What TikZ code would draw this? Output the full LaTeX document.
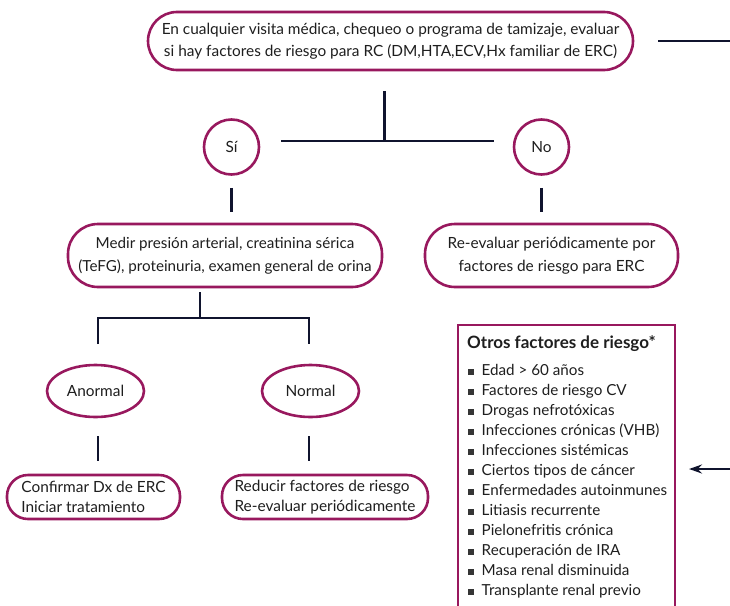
\documentclass[tikz,border=0pt]{standalone}
\usepackage{fontspec}
\setmainfont{Lato}
\usetikzlibrary{shapes.geometric,arrows.meta,calc}
\definecolor{frame}{RGB}{152,24,94}
\definecolor{ink}{RGB}{16,20,46}
\definecolor{txt}{RGB}{30,30,30}
\newcommand{\bulletsq}{\textcolor{txt!90}{\rule[0.5pt]{5.5pt}{5.5pt}}\hspace{8pt}}
\begin{document}
\begin{tikzpicture}[x=1pt,y=-1pt,
  every node/.style={font=\fontsize{15.4}{22}\selectfont, text=txt, inner sep=0pt},
  pill/.style={draw=frame, line width=2.6pt, align=center},
  bubble/.style={draw=frame, line width=2.6pt, circle, minimum size=55pt},
  oval/.style={draw=frame, line width=2.6pt, ellipse, minimum width=97pt, minimum height=52pt},
  link/.style={draw=ink, line width=2.7pt},
]
\useasboundingbox (0,0) rectangle (730,605);

% decision boxes
\node[pill, rounded corners=29pt, minimum width=485pt, minimum height=58pt] (top) at (390.5,41)
  {En cualquier visita médica, chequeo o programa de tamizaje, evaluar\\
   si hay factores de riesgo para RC (DM,HTA,ECV,Hx familiar de ERC)};
\node[bubble] (si) at (231.5,147) {Sí};
\node[bubble] (no) at (541.5,147) {No};
\node[pill, rounded corners=30pt, minimum width=314pt, minimum height=63pt,
      font=\fontsize{15.2}{23}\selectfont] (medir) at (225,255.5)
  {Medir presión arterial, creatinina sérica\\
   (TeFG), proteinuria, examen general de orina};
\node[pill, rounded corners=30pt, minimum width=253pt, minimum height=63pt,
      font=\fontsize{15.4}{23}\selectfont] (reeval) at (551.5,255.5)
  {Re-evaluar periódicamente por\\ factores de riesgo para ERC};
\node[oval] (anormal) at (95.5,391) {Anormal};
\node[oval] (normal) at (310.5,391) {Normal};
\node[pill, rounded corners=21pt, minimum width=173pt, minimum height=44pt, align=left,
      font=\fontsize{15.4}{19.5}\selectfont] (confirmar) at (93.5,497)
  {Confirmar Dx de ERC\\ Iniciar tratamiento};
\node[pill, rounded corners=21pt, minimum width=206pt, minimum height=44pt, align=left,
      font=\fontsize{15.4}{19.5}\selectfont] (reducir) at (325,497)
  {Reducir factores de riesgo\\ Re-evaluar periódicamente};

% other risk factors panel (continues below the page edge)
\coordinate (pBL) at (458,606);
\coordinate (pTL) at (458,325);
\coordinate (pTR) at (675,325);
\coordinate (pBR) at (675,606);
\draw[frame, line width=2.6pt] (pBL) -- (pTL) -- (pTR) -- (pBR);
\node[anchor=base west, font=\bfseries\fontsize{17}{19}\selectfont] (otros) at (467,348)
  {Otros factores de riesgo*};
\node[anchor=north west, align=left, font=\fontsize{15.2}{20}\selectfont] (lista) at (468,364)
  {\bulletsq Edad > 60 años\\
   \bulletsq Factores de riesgo CV\\
   \bulletsq Drogas nefrotóxicas\\
   \bulletsq Infecciones crónicas (VHB)\\
   \bulletsq Infecciones sistémicas\\
   \bulletsq Ciertos tipos de cáncer\\
   \bulletsq Enfermedades autoinmunes\\
   \bulletsq Litiasis recurrente\\
   \bulletsq Pielonefritis crónica\\
   \bulletsq Recuperación de IRA\\
   \bulletsq Masa renal disminuida\\
   \bulletsq Transplante renal previo};

% connector end points
\coordinate (t1) at ($(top.south)+(-6,20)$);
\coordinate (t2) at ($(top.south)+(-6,70)$);
\coordinate (hL) at (281,141);
\coordinate (hR) at (494,141);
\coordinate (s1) at ($(si.south)+(0,12)$);
\coordinate (s2) at ($(si.south)+(0,36)$);
\coordinate (n1) at ($(no.south)+(0,12)$);
\coordinate (n2) at ($(no.south)+(0,36)$);
\coordinate (m1) at ($(medir.south)+(-25,4)$);
\coordinate (m2) at ($(medir.south)+(-25,31)$);
\coordinate (bL) at (98,318);
\coordinate (bR) at (309,318);
\coordinate (bL2) at (98,344);
\coordinate (bR2) at (309,344);
\coordinate (a1) at ($(anormal.south)+(2.5,18)$);
\coordinate (a2) at ($(anormal.south)+(2.5,43)$);
\coordinate (o1) at ($(normal.south)+(-1.5,18)$);
\coordinate (o2) at ($(normal.south)+(-1.5,43)$);
\coordinate (r1) at (658,41);
\coordinate (r2) at (731,41);
\coordinate (w1) at (731,469);
\coordinate (w2) at (689,469);

% connectors
\draw[link] (t1) -- (t2);
\draw[link] (hL) -- (hR);
\draw[link] (s1) -- (s2);
\draw[link] (n1) -- (n2);
\draw[link] (m1) -- (m2);
\draw[link] (bL2) -- (bL) -- (bR) -- (bR2);
\draw[link] (a1) -- (a2);
\draw[link] (o1) -- (o2);
\draw[link] (r1) -- (r2);
\draw[link, -{Stealth[length=13pt, width=9pt]}] (w1) -- (w2);
\end{tikzpicture}
\end{document}
